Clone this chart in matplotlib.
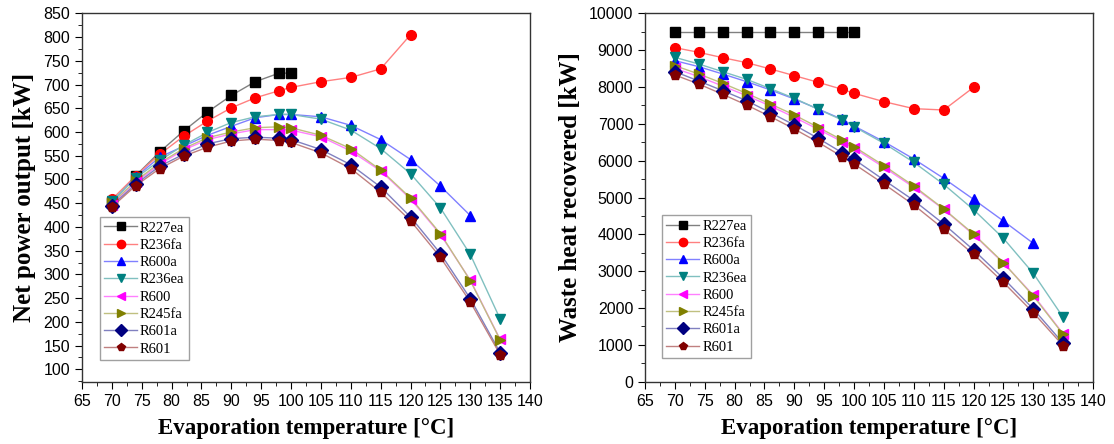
import matplotlib
matplotlib.use("Agg")
import matplotlib.pyplot as plt
from matplotlib.lines import Line2D
from matplotlib.ticker import MultipleLocator
from matplotlib.colors import to_rgb

T_full = [70, 74, 78, 82, 86, 90, 94, 98, 100, 105, 110, 115, 120, 125, 130, 135]
T_227 = T_full[:9]
T_236fa = T_full[:13]
T_600a = T_full[:15]

names = ["R227ea", "R236fa", "R600a", "R236ea", "R600", "R245fa", "R601a", "R601"]
colors = ["#000000", "#FF0000", "#0000FF", "#008080", "#FF00FF", "#808000", "#000080", "#800000"]
markers = ["s", "o", "^", "v", "<", ">", "D", "p"]

# Net power output [kW]
power = {
    "R227ea": [452, 508, 558, 602, 642, 677, 706, 724, 724],
    "R236fa": [458, 508, 553, 591, 623, 651, 672, 687, 694, 706, 715, 733, 805],
    "R600a": [452, 505, 547, 570, 593, 612, 630, 637, 637, 632, 614, 584, 542, 486, 424],
    "R236ea": [455, 503, 540, 572, 599, 620, 632, 637, 637, 627, 604, 565, 512, 440, 342, 206],
    "R600": [447, 494, 532, 562, 584, 596, 605, 605, 604, 590, 560, 518, 459, 384, 288, 163],
    "R245fa": [450, 497, 535, 565, 588, 600, 609, 611, 609, 593, 565, 520, 461, 386, 287, 162],
    "R601a": [445, 490, 528, 553, 575, 586, 589, 587, 584, 563, 531, 484, 421, 344, 249, 135],
    "R601": [442, 487, 523, 549, 568, 581, 585, 582, 578, 556, 523, 473, 413, 336, 242, 131],
}

# Waste heat recovered [kW]
heat = {
    "R227ea": [9500, 9500, 9500, 9500, 9500, 9500, 9500, 9500, 9500],
    "R236fa": [9068, 8941, 8796, 8661, 8489, 8308, 8127, 7937, 7828, 7602, 7412, 7376, 7991],
    "R600a": [8715, 8552, 8353, 8145, 7919, 7674, 7403, 7122, 6941, 6516, 6045, 5520, 4950, 4362, 3756],
    "R236ea": [8805, 8624, 8416, 8208, 7955, 7692, 7394, 7104, 6923, 6471, 5955, 5357, 4670, 3891, 2941, 1747],
    "R600": [8507, 8281, 8027, 7765, 7484, 7176, 6851, 6516, 6335, 5819, 5276, 4680, 3990, 3220, 2350, 1300],
    "R245fa": [8579, 8353, 8100, 7828, 7538, 7240, 6905, 6561, 6380, 5864, 5312, 4690, 4009, 3231, 2326, 1285],
    "R601a": [8416, 8163, 7900, 7629, 7303, 6968, 6606, 6217, 6036, 5475, 4920, 4281, 3575, 2805, 1973, 1041],
    "R601": [8326, 8081, 7801, 7511, 7195, 6860, 6498, 6109, 5910, 5367, 4796, 4145, 3457, 2697, 1873, 977],
}

temps = {"R227ea": T_227, "R236fa": T_236fa, "R600a": T_600a}

def light(c, f=0.5):
    r, g, b = to_rgb(c)
    return (r + (1 - r) * f, g + (1 - g) * f, b + (1 - b) * f)

serif = ["Liberation Serif", "DejaVu Serif"]
sans = ["Liberation Sans", "DejaVu Sans"]

fig = plt.figure(figsize=(11.14, 4.44), dpi=100)
ax1 = fig.add_axes([0.0736, 0.1403, 0.4022, 0.8297])
ax2 = fig.add_axes([0.579, 0.1403, 0.4022, 0.8297])

def draw(ax, data, ylim, ymaj, ymin, ylabel, leg_anchor):
    handles = []
    for n, c, m in zip(names, colors, markers):
        x = temps.get(n, T_full)
        y = data[n]
        ax.plot(x, y, color=light(c), lw=1.0, zorder=2)
        ax.plot(x, y, ls="none", marker=m, color=c, ms=7, mec=c, zorder=3)
        handles.append(Line2D([], [], color=light(c), lw=1.0, marker=m, ms=6,
                              mfc=c, mec=c, label=n))
    ax.set_xlim(65, 140)
    ax.set_ylim(*ylim)
    ax.xaxis.set_major_locator(MultipleLocator(5))
    ax.xaxis.set_minor_locator(MultipleLocator(2.5))
    ax.yaxis.set_major_locator(MultipleLocator(ymaj))
    ax.yaxis.set_minor_locator(MultipleLocator(ymin))
    ax.tick_params(which="both", direction="out", top=False, right=False)
    ax.tick_params(which="major", length=5, labelsize=11.5)
    ax.tick_params(which="minor", length=3)
    for lab in ax.get_xticklabels() + ax.get_yticklabels():
        lab.set_family(sans)
    for s in ax.spines.values():
        s.set_color("#333333")
        s.set_linewidth(1.0)
    ax.set_xlabel("Evaporation temperature [°C]", family=serif, fontsize=16.5,
                  fontweight="bold", labelpad=7)
    ax.set_ylabel(ylabel, family=serif, fontsize=18, fontweight="bold", labelpad=5)
    leg = ax.legend(handles=handles, loc="lower left", bbox_to_anchor=leg_anchor,
                    prop={"family": serif, "size": 10.5}, frameon=True, fancybox=False,
                    edgecolor="#888888", handlelength=2.25, handletextpad=0.2,
                    labelspacing=0.28, borderpad=0.3, borderaxespad=0.0)
    leg.get_frame().set_linewidth(1.0)

draw(ax1, power, (74, 850), 50, 25, "Net power output [kW]", (0.040, 0.059))
draw(ax2, heat, (0, 10000), 1000, 500, "Waste heat recovered [kW]", (0.038, 0.064))

fig.savefig("out.png", dpi=100)
